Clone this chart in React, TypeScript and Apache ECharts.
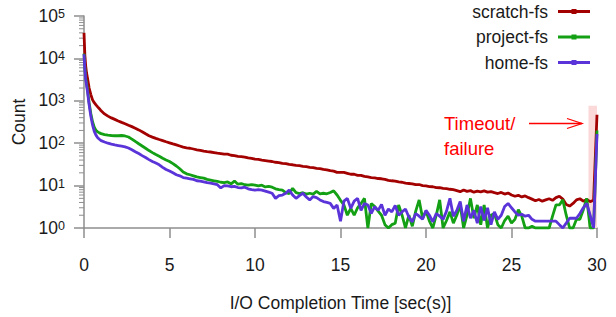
import React, { useEffect, useRef } from 'react';
import * as echarts from 'echarts';

// I/O completion time (seconds)
const timeSec = [
  0, 0.05, 0.1, 0.15, 0.2, 0.3, 0.4, 0.5, 0.6, 0.7, 0.8, 0.9,
  1.0, 1.2, 1.4, 1.6, 1.8, 2.0, 2.2, 2.4, 2.6, 2.8,
  3.0, 3.2, 3.4, 3.6, 3.8, 4.0, 4.2, 4.4, 4.6, 4.8,
  5.0, 5.2, 5.4, 5.6, 5.8, 6.0, 6.2, 6.4, 6.6, 6.8,
  7.0, 7.2, 7.4, 7.6, 7.8, 8.0, 8.2, 8.4, 8.6, 8.8,
  9.0, 9.2, 9.4, 9.6, 9.8, 10.0, 10.2, 10.4, 10.6, 10.8,
  11.0, 11.2, 11.4, 11.6, 11.8, 12.0, 12.2, 12.4, 12.6, 12.8,
  13.0, 13.2, 13.4, 13.6, 13.8, 14.0, 14.2, 14.4, 14.6, 14.8,
  15.0, 15.2, 15.4, 15.6, 15.8, 16.0, 16.2, 16.4, 16.6, 16.8,
  17.0, 17.2, 17.4, 17.6, 17.8, 18.0, 18.2, 18.4, 18.6, 18.8,
  19.0, 19.2, 19.4, 19.6, 19.8, 20.0, 20.2, 20.4, 20.6, 20.8,
  21.0, 21.2, 21.4, 21.6, 21.8, 22.0, 22.2, 22.4, 22.6, 22.8,
  23.0, 23.2, 23.4, 23.6, 23.8, 24.0, 24.2, 24.4, 24.6, 24.8,
  25.0, 25.2, 25.4, 25.6, 25.8, 26.0, 26.2, 26.4, 26.6, 26.8,
  27.0, 27.2, 27.4, 27.6, 27.8, 28.0, 28.2, 28.4, 28.6, 28.8,
  29.0, 29.2, 29.4, 29.6, 29.8, 30.0,
];

const scratchFs = [
  40000, 12000, 6600, 4500, 3500, 2000, 1400, 1050, 900, 800, 720, 650,
  580, 490, 435, 395, 365, 335, 310, 288, 266, 246,
  226, 206, 186, 167, 150, 139, 130, 122, 115, 108,
  102, 96, 91, 86, 81, 78, 76, 73, 70, 68,
  65, 63, 62, 60, 58, 57, 55, 55, 52, 51,
  49, 48, 47, 45, 44, 42, 41.5, 40, 39, 38,
  37, 35.5, 35, 33.5, 33, 31.5, 31, 30, 29.5, 28.5,
  28, 27, 26.5, 25.5, 25, 24, 23.5, 22.5, 22, 20.5,
  20.5, 20.5, 19.5, 18.5, 18.5, 17.5, 17.5, 16.5, 16, 15.5,
  15.2, 14.7, 14.5, 14, 13.3, 13, 12.8, 12.2, 12, 11.4,
  11.2, 11, 10.5, 10.6, 10, 9.8, 9.5, 9.4, 9, 8.9,
  8.6, 8.5, 8.2, 8, 7.6, 7.2, 7.9, 7.3, 7.6, 7.0,
  7.4, 7.1, 7.5, 7.0, 7.2, 6.8, 6.5, 6.9, 6.3, 6.7,
  6.0, 5.6, 5.9, 5.4, 5.7, 5.2, 4.8, 4.4, 4.7, 4.3,
  4.6, 4.9, 4.5, 5.2, 5.6, 4.8, 3.6, 3.3, 3.8, 4.6,
  4.9, 4.3, 4.7, 4.2, 4.5, 470,
];

const projectFs = [
  13000, 6000, 3500, 2600, 1900, 900, 500, 320, 240, 200, 185, 175,
  168, 160, 155, 152, 150, 150, 152, 148, 140, 125,
  110, 97, 86, 76, 67, 60, 54, 49, 44, 40,
  37, 33, 29, 25, 21, 19, 18, 17, 16, 15.5,
  15, 14, 13.5, 13, 12.5, 12, 11.8, 12.2, 11, 12.8,
  10.8, 11.2, 10.5, 10.2, 10.6, 10.2, 9.8, 10.2, 9.3, 9.6,
  9.2, 8.4, 8.0, 7.8, 6.8, 6.5, 8.6, 6.8, 6.5, 6.8,
  6.3, 6.6, 6.3, 7.3, 6.4, 6.6, 6.4, 6.9, 7.5, 6.0,
  4.5, 3.5, 2.0, 2.9, 2.0, 3.0, 3.8, 5.0, 1.0, 3.8,
  3.2, 2.5, 2.0, 1.2, 1.0, 1.2, 1.3, 3.5, 2.0, 1.0,
  2.0, 1.1, 2.5, 4.6, 1.7, 2.5, 1.45, 1.0, 2.0, 4.6,
  1.0, 1.5, 2.4, 1.3, 2.0, 3.5, 1.0, 2.0, 5.0, 1.7,
  3.5, 1.2, 3.5, 1.0, 2.0, 2.2, 1.2, 1.0, 1.5, 1.9,
  1.3, 1.6, 2.7, 1.9, 1.0, 1.0, 1.1, 1.0, 1.0, 1.0,
  1.0, 1.0, 1.9, 3.5, 3.5, 4.6, 2.0, 1.0, 1.0, 1.6,
  1.6, 2.7, 5.0, 1.0, 1.0, 200,
];

const homeFs = [
  12500, 5500, 3200, 2300, 1700, 800, 430, 270, 190, 155, 135, 124,
  115, 107, 100, 95, 91, 88, 85, 82, 77, 70,
  63, 57, 51, 46, 41, 37, 34, 31, 27, 24,
  22, 20, 18, 17, 15.5, 15, 14.5, 14, 13, 12.8,
  12.3, 11.8, 11.5, 11, 10.5, 8.8, 10, 9.8, 9.4, 9.6,
  9.0, 8.8, 9.2, 8.4, 8.0, 7.8, 8.0, 7.8, 7.4, 7.0,
  6.6, 5.0, 5.8, 6.0, 6.6, 7.9, 6.0, 5.0, 5.8, 6.6,
  5.4, 4.6, 5.5, 5.2, 4.6, 4.2, 4.0, 3.8, 2.9, 3.5,
  1.45, 4.3, 5.0, 2.9, 4.3, 5.0, 2.6, 3.8, 3.5, 2.2,
  3.2, 2.6, 3.6, 2.0, 2.8, 2.4, 3.4, 2.0, 2.4, 2.8,
  1.8, 1.4, 2.2, 1.9, 1.6, 2.6, 2.0, 1.4, 2.2, 1.9,
  1.6, 2.5, 5.0, 1.9, 2.6, 4.2, 1.45, 3.5, 1.7, 2.6,
  1.3, 3.2, 1.5, 3.0, 1.2, 2.4, 1.6, 2.0, 3.2, 3.8,
  3.0, 2.4, 2.0, 2.1, 1.9, 2.0, 1.6, 1.45, 1.45, 1.45,
  1.45, 1.45, 1.45, 1.45, 1.2, 1.0, 1.3, 1.7, 1.7, 1.7,
  2.2, 3.0, 3.8, 2.0, 1.0, 165,
];

const seriesNames = ['scratch-fs', 'project-fs', 'home-fs'];
const seriesColors = ['#a30000', '#14a014', '#5a34d8'];
const xTickValues = [0, 5, 10, 15, 20, 25, 30];
const yDecades = [1, 10, 100, 1000, 10000, 100000];
const minorMultipliers = [2, 3, 4, 5, 6, 7, 8, 9];
const timeoutBand = [29.5, 30];
const timeoutBandTop = 760;

const FONT = '"Liberation Sans", Arial, Helvetica, sans-serif';
const FS = 17.5;

export default function App() {
  const ref = useRef<HTMLDivElement>(null);

  useEffect(() => {
    const chart = echarts.init(ref.current!, null, { renderer: 'svg' });
    const allSeries = [scratchFs, projectFs, homeFs];
    const minorTicks: number[][] = [];
    yDecades.slice(0, -1).forEach((d) => minorMultipliers.forEach((m) => minorTicks.push([0, d * m])));

    const lineSeries: any[] = allSeries.map((ys, i) => ({
      type: 'line',
      name: seriesNames[i],
      data: timeSec.map((t, j) => [t, ys[j]]),
      showSymbol: false,
      symbol: 'none',
      lineStyle: { color: seriesColors[i], width: 2.8 },
      itemStyle: { color: seriesColors[i] },
      z: 3 + i,
      silent: true,
    }));
    lineSeries[0].markArea = {
      silent: true,
      itemStyle: { color: '#fcd9d9' },
      data: [[{ xAxis: timeoutBand[0], yAxis: 1 }, { xAxis: timeoutBand[1], yAxis: timeoutBandTop }]],
    };

    chart.setOption({
      animation: false,
      backgroundColor: '#ffffff',
      textStyle: { fontFamily: FONT },
      grid: { left: 84, right: 19, top: 16, bottom: 87, containLabel: false },
      legend: {
        data: seriesNames,
        orient: 'vertical',
        right: 26,
        top: 2.5,
        padding: 0,
        align: 'right',
        itemWidth: 32,
        itemHeight: 6,
        itemGap: 7.5,
        icon: 'path://M0,1.5H32V4.5H0Z M13.5,0.5H18.5V5.5H13.5Z',
        textStyle: { fontSize: FS, color: '#1a1a1a', fontFamily: FONT, padding: [0, 5, 0, 0] },
        selectedMode: false,
      },
      xAxis: {
        type: 'value',
        min: 0,
        max: 30,
        interval: 5,
        name: 'I/O Completion Time [sec(s)]',
        nameLocation: 'middle',
        nameGap: 66,
        nameTextStyle: { fontSize: FS, color: '#1a1a1a', fontFamily: FONT },
        axisLine: { show: true, onZero: false, lineStyle: { color: '#8e8e8e', width: 1.5 } },
        axisTick: { show: true, inside: false, length: 10, lineStyle: { color: '#8e8e8e', width: 1.5 } },
        axisLabel: {
          fontSize: FS,
          color: '#1a1a1a',
          margin: 28,
          fontFamily: FONT,
          formatter: (v: number) => (xTickValues.includes(v) ? String(v) : ''),
        },
        splitLine: { show: false },
      },
      yAxis: {
        type: 'log',
        logBase: 10,
        min: 1,
        max: 100000,
        name: 'Count',
        nameLocation: 'middle',
        nameGap: 50,
        nameTextStyle: { fontSize: FS, color: '#1a1a1a', fontFamily: FONT },
        axisLine: { show: true, lineStyle: { color: '#8e8e8e', width: 1.5 } },
        axisTick: { show: true, inside: false, length: 10, lineStyle: { color: '#8e8e8e', width: 1.5 } },
        axisLabel: {
          margin: 19,
          color: '#1a1a1a',
          formatter: (v: number) => `{b|10}{s|${Math.round(Math.log10(v))}}`,
          rich: {
            b: { fontSize: FS, lineHeight: 17, fontFamily: FONT, color: '#1a1a1a', verticalAlign: 'bottom' },
            s: { fontSize: 12.5, lineHeight: 12, fontFamily: FONT, color: '#1a1a1a', verticalAlign: 'top', padding: [0, 0, 6, 0] },
          },
        },
        splitLine: { show: false },
        minorTick: { show: false },
      },
      series: [
        {
          type: 'custom',
          name: 'minor-ticks',
          silent: true,
          clip: false,
          z: 1,
          data: minorTicks,
          renderItem: (_params: any, api: any) => {
            const p = api.coord([api.value(0), api.value(1)]);
            return {
              type: 'line',
              shape: { x1: p[0] - 5, y1: p[1], x2: p[0], y2: p[1] },
              style: { stroke: '#8e8e8e', lineWidth: 1 },
            };
          },
        },
        ...lineSeries,
      ],
      graphic: [
        {
          type: 'text',
          left: 444,
          top: 114,
          silent: true,
          style: { text: 'Timeout/', fill: '#ff0000', fontSize: 18.5, fontFamily: FONT },
        },
        {
          type: 'text',
          left: 444,
          top: 139,
          silent: true,
          style: { text: 'failure', fill: '#ff0000', fontSize: 18.5, fontFamily: FONT },
        },
        {
          type: 'line',
          silent: true,
          shape: { x1: 529, y1: 123.5, x2: 582, y2: 123.5 },
          style: { stroke: '#ff0000', lineWidth: 1.3 },
        },
        {
          type: 'polyline',
          silent: true,
          shape: { points: [[567, 118.5], [582, 123.5], [567, 128.5]] },
          style: { stroke: '#ff0000', lineWidth: 1.3, fill: 'none' },
        },
      ],
    });
    return () => chart.dispose();
  }, []);

  return <div ref={ref} style={{ position: 'fixed', left: 0, top: 0, width: 616, height: 317 }} />;
}
